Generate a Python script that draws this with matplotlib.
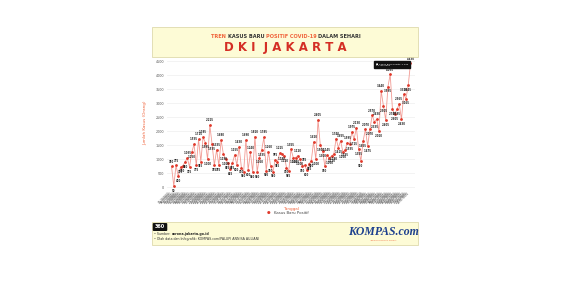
import numpy as np
import matplotlib
matplotlib.use('Agg')
import matplotlib.pyplot as plt
import pandas as pd
from matplotlib.patches import Rectangle, FancyBboxPatch

# daily new positive cases
kasus = [740, 50, 775, 400, 715, 760, 900, 1035, 725, 1250, 1535, 775, 1715, 915,
         1785, 1595, 1000, 2215, 1535, 785, 1335, 785, 1680, 1190, 1010, 855, 645,
         855, 1155, 800, 1430, 700, 560, 1690, 620, 1240, 550, 1810, 550, 1060,
         1335, 1785, 595, 1260, 740, 560, 975, 915, 1215,
         1180, 1120, 700, 585, 1355, 1060, 1060, 1120, 1000, 760, 785, 620, 835,
         940, 1620, 1000, 2405, 1500, 1300, 760, 1145, 1050, 1120, 1180, 1740,
         1415, 1655, 1260, 1335, 1595, 1535, 1975, 1715, 2130, 1355, 940, 1655,
         2070, 1475, 2070, 2570, 2335, 2430, 2010, 3440, 2905, 2405, 3595, 4035,
         2785, 2605, 2785, 2965, 2430, 3320, 3165, 3645, 4430]
tanggal = pd.date_range('2020-10-07', periods=len(kasus), freq='D')
label_tgl = [d.strftime('%d/%m/%Y') for d in tanggal]
yticks = [0, 500, 1000, 1500, 2000, 2500, 3000, 3500, 4000, 4500]
judul = [('TREN ', 'o'), ('KASUS BARU ', 'g'), ('POSITIF COVID-19 ', 'o'),
         ('DALAM SEHARI', 'g')]

merah = '#e0392b'
oranye = '#f0643c'
garis = '#f29a93'
kuning = '#fdfbd6'
warna = {'o': oranye, 'g': '#333333'}

fig = plt.figure(figsize=(5.8, 2.9), dpi=100)
fig.patch.set_facecolor('white')
r = fig.canvas.get_renderer()

# header box
fig.patches.append(Rectangle((152/580, 1-57/290), 266/580, 30/290, transform=fig.transFigure,
                             facecolor=kuning, edgecolor='#d8d3a0', lw=0.5))
teks = []
for s, c in judul:
    teks.append(fig.text(0, 1-37/290, s, color=warna[c], fontsize=3.6,
                         fontweight='bold', va='center'))
lebar = [t.get_window_extent(r).width for t in teks]
xx = 286 - sum(lebar) / 2
for t, w in zip(teks, lebar):
    t.set_x(xx / 580)
    xx += w
fig.text(285/580, 1-48/290, 'D K I  J A K A R T A', color='#d42e25', fontsize=8.5,
         fontweight='bold', ha='center', va='center')

# chart
ax = fig.add_axes([167/580, 1-188/290, 248/580, 130/290])
x = np.arange(len(kasus))
ax.plot(x, kasus, color=garis, lw=0.6, zorder=2)
ax.plot(x, kasus, 'o', color=merah, ms=1.0, zorder=3)
for i, v in enumerate(kasus):
    kiri = kasus[i-1] if i > 0 else v
    kanan = kasus[i+1] if i < len(kasus)-1 else v
    atas = v >= kiri and v >= kanan
    ax.annotate(f'{v:,}'.replace(',', '.'), (i, v), xytext=(0, 2.0 if atas else -2.0),
                textcoords='offset points', ha='center', va='bottom' if atas else 'top',
                fontsize=1.8, color='#222222', fontweight='bold', zorder=4)
ax.set_xlim(-2, len(kasus) + 1)
ax.set_ylim(-30, 4620)
ax.set_yticks(yticks)
ax.set_yticklabels([str(v) for v in yticks], fontsize=2.4, color='#555555')
ax.set_xticks(x)
ax.set_xticklabels(label_tgl, rotation=45, ha='right', fontsize=2.0, color='#444444')
ax.tick_params(length=0, pad=2)
ax.grid(axis='y', color='#eeeeee', lw=0.5)
for sp in ax.spines.values():
    sp.set_visible(False)
ax.set_ylabel('Jumlah Kasus (Orang)', fontsize=3, color=oranye, labelpad=6)
ax.set_xlabel('Tanggal', fontsize=3, color=oranye, labelpad=2)

# tooltip of the last point
ax.annotate('\u25a0 Kasus Baru Positif: ' + f'{kasus[-1]:,}'.replace(',', '.') + '\n'
            + tanggal[-1].strftime('%d Jan %Y'),
            (len(kasus)-1, kasus[-1]), xytext=(-25, -1), textcoords='offset points',
            fontsize=1.7, color='white', ha='left', va='center', linespacing=1.4,
            bbox=dict(boxstyle='square,pad=0.8', fc='#111111', ec='#111111'))

# legend
fig.text(0.463, 1-213/290, '\u25cf', color=merah, fontsize=3, ha='center', va='center')
fig.text(0.472, 1-213/290, 'Kasus Baru Positif', color='#444444', fontsize=2.8, va='center')

# footer box
fig.patches.append(Rectangle((152/580, 1-245/290), 266/580, 23/290, transform=fig.transFigure,
                             facecolor=kuning, edgecolor='#d8d3a0', lw=0.5))
fig.patches.append(FancyBboxPatch((154/580, 1-230/290), 12/580, 6/290, transform=fig.transFigure,
                                  boxstyle='round,pad=0.001', fc='#111111', ec='#111111'))
fig.text(160/580, 1-227/290, '360', color='white', fontsize=3.5, fontweight='bold',
         ha='center', va='center')
s1 = fig.text(154/580, 1-234/290, '\u2022 Sumber: ', color='#333333', fontsize=2.3, va='center')
w1 = s1.get_window_extent(r).width
fig.text((154 + w1)/580, 1-234/290, 'corona.jakarta.go.id', color='#222222', fontsize=2.3,
         va='center', fontweight='bold')
fig.text(154/580, 1-239/290, '\u2022 Olah data dan Infografik: KOMPAS.com/PALUPI ANNISA AULIANI',
         color='#333333', fontsize=2.3, va='center')
fig.text(383/580, 1-232/290, 'KOMPAS.com', color='#1c3f8e', fontsize=8.5, fontstyle='italic',
         fontweight='bold', family='Liberation Serif', ha='center', va='center')
fig.text(383/580, 1-240/290, 'JERNIH MELIHAT DUNIA', color=oranye, fontsize=1.6,
         ha='center', va='center')

fig.savefig('out.png', dpi=100, facecolor='white')
